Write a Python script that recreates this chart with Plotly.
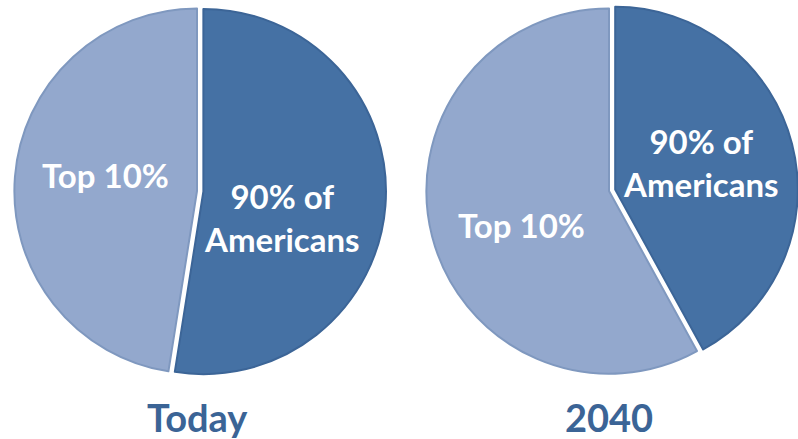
import plotly.graph_objects as go

# Data
groups = ["90% of Americans", "Top 10%"]
group_text = ["90% of<br>Americans", "Top 10%"]
today_values = [52.5, 47.5]
y2040_values = [42, 58]
panel_titles = ["Today", "2040"]

fill_colors = ["#4571A4", "#93A8CD"]
edge_colors = ["#3C6597", "#7F98BF"]
title_color = "#3B6496"
FONT = "Lato"

W, H = 798, 439

def dom_x(c, half):
    return [max(0, (c - half) / W), min(1, (c + half) / W)]

def dom_y(c, half):
    return [1 - (c + half) / H, 1 - (c - half) / H]

half = 189
centers = [197, W - half]
cy = 191
# label offsets (px) from each pie centre, per panel: [dark slice, light slice]
label_offsets = [
    [(85, 27), (-92, -16)],
    [(92, -29), (-88, 34)],
]

fig = go.Figure()
for i, (vals, ttl) in enumerate(zip([today_values, y2040_values], panel_titles)):
    cx = centers[i]
    fig.add_trace(go.Pie(
        labels=groups,
        values=vals,
        textinfo="none",
        sort=False,
        direction="clockwise",
        rotation=0,
        pull=[0.035, 0],
        marker=dict(colors=fill_colors, line=dict(color=edge_colors, width=2)),
        domain=dict(x=dom_x(cx, half), y=dom_y(cy, half)),
        hoverinfo="label+percent",
        showlegend=False,
    ))
    for txt, (dx, dy) in zip(group_text, label_offsets[i]):
        fig.add_annotation(
            x=(cx + dx) / W, y=1 - (cy + dy) / H, xref="paper", yref="paper",
            text=txt, showarrow=False, xanchor="center", yanchor="middle",
            font=dict(family=FONT, size=33, color="white", weight="bold"),
        )
    fig.add_annotation(
        x=cx / W, y=1 - 417 / H, xref="paper", yref="paper",
        text=ttl, showarrow=False, xanchor="center", yanchor="middle",
        font=dict(family=FONT, size=38, color=title_color, weight="bold"),
    )

fig.update_layout(
    width=W, height=H,
    margin=dict(l=0, r=0, t=0, b=0),
    paper_bgcolor="white",
    plot_bgcolor="white",
    showlegend=False,
)

fig.write_html("out.html")
